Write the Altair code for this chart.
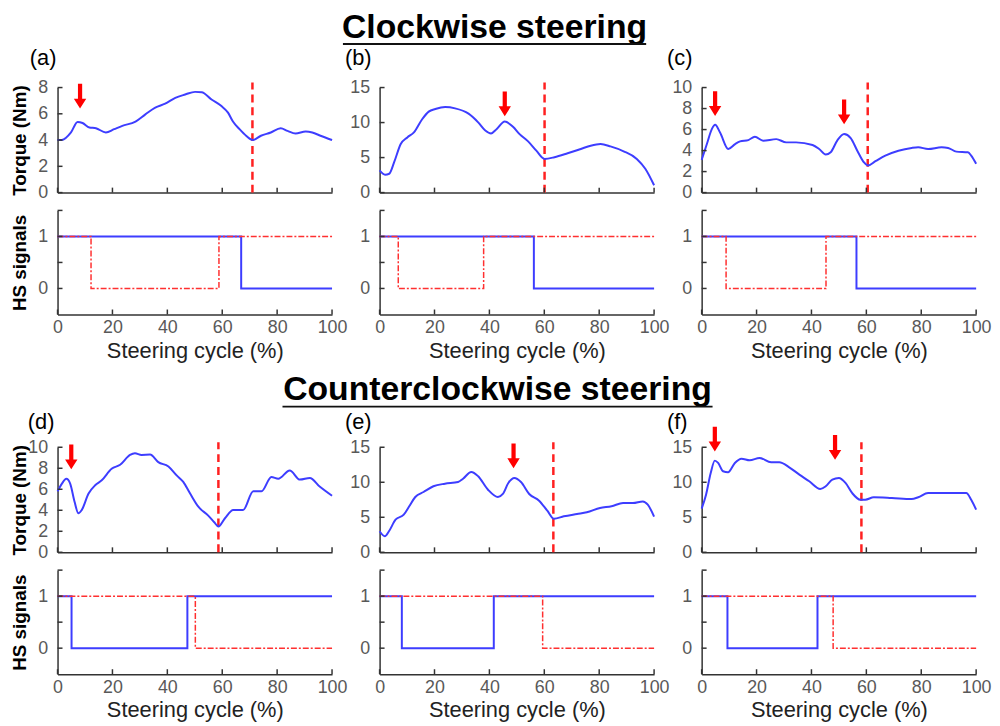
import altair as alt
import pandas as pd

FONT = "Liberation Sans"
BLUE = "#3d3dff"
RED = "#ff2020"
AXIS_C = "#333333"
LABEL_C = "#595959"
W = 277
HT = 106
HH = 105

SECTION_TITLES = ["Clockwise steering", "Counterclockwise steering"]
PANEL_LABELS = ["(a)", "(b)", "(c)", "(d)", "(e)", "(f)"]
X_TICKS = [0, 20, 40, 60, 80, 100]
HS_TICKS = [0, 0.5, 1, 1.5]
HS_LABELS = [0, 1]
Y_TITLE_TORQUE = "Torque (Nm)"
Y_TITLE_HS = "HS signals"
X_TITLE = "Steering cycle (%)"

# ---- torque curves (steering cycle %, torque Nm) ----
A_X = [0, 1.5, 4.9, 7.3, 9.1, 11.6, 14, 17.6, 20.6, 23.6, 28.4, 32, 35.6, 39.2, 42.9, 46.5, 50.1, 52.5,
       56.1, 59.7, 62.1, 63.9, 66.3, 68.7, 71.1, 74.1, 77.7, 81.3, 83.8, 86.7, 90.4, 92.8, 95.8, 100]
A_Y = [4.0, 4.0, 4.58, 5.38, 5.3, 4.96, 4.9, 4.58, 4.83, 5.08, 5.41, 5.96, 6.47, 6.77, 7.22, 7.47, 7.67, 7.65,
       7.09, 6.59, 6.09, 5.41, 4.83, 4.33, 4.0, 4.33, 4.58, 4.9, 4.7, 4.5, 4.65, 4.58, 4.33, 4.0]

B_X = [0, 2, 3.5, 5.3, 7.7, 10.1, 12.5, 15.5, 17.9, 20.3, 23.9, 27.5, 32.4, 36, 38.4, 40.6, 42.6, 45.6,
       48.6, 51, 54.1, 57.1, 60.1, 63.7, 68.5, 73.3, 76.9, 80.5, 84.1, 88.9, 93.7, 96.8, 100]
B_Y = [3.16, 2.55, 2.69, 4.34, 6.93, 7.88, 8.59, 10.47, 11.56, 11.93, 12.21, 12.03, 11.28, 10.0, 8.91, 8.45,
       9.06, 10.14, 9.39, 8.35, 7.31, 5.99, 4.81, 5.05, 5.61, 6.23, 6.7, 6.93, 6.6, 5.9, 4.81, 3.4, 1.04]

C_X = [0, 1.9, 3.7, 4.9, 6.7, 9.7, 12.2, 14, 17, 19.4, 22.4, 27.2, 30.8, 34.4, 40.4, 42.8, 45.2, 47, 49.5,
       51.9, 54.3, 56.7, 59.1, 60.6, 63.3, 66.9, 71.7, 76.5, 78.9, 82.5, 87.4, 89.8, 92.8, 97, 98.2, 100]
C_Y = [3.11, 4.62, 6.04, 6.45, 5.72, 4.15, 4.62, 4.87, 5.0, 5.31, 4.94, 5.09, 4.78, 4.78, 4.53, 4.15, 3.62,
       3.84, 5.0, 5.57, 5.19, 3.99, 2.89, 2.58, 2.99, 3.52, 3.99, 4.25, 4.31, 4.15, 4.31, 4.25, 3.9, 3.84, 3.52, 2.74]

D_X = [0, 1.6, 3.2, 4.6, 6.2, 7.6, 8.8, 11.3, 13.7, 16.1, 19.7, 22.8, 26.4, 28.2, 30.6, 33.7, 36.7, 40.4,
       43.4, 45.8, 48.3, 51.3, 54.9, 57.1, 58.6, 61, 64, 67.6, 71.3, 74.3, 77.9, 80.4, 84.6, 88.3, 91.9, 95.6, 100]
D_Y = [5.8, 6.54, 7.0, 6.54, 4.81, 3.71, 4.02, 5.59, 6.38, 6.85, 7.95, 8.33, 9.27, 9.43, 9.27, 9.3, 8.58, 8.17,
       7.32, 6.7, 5.59, 4.34, 3.49, 2.86, 2.45, 3.24, 4.02, 4.02, 5.81, 5.81, 7.17, 7.0, 7.79, 6.92, 7.08, 6.23, 5.38]

E_X = [0, 1.9, 3.4, 5.8, 8.8, 10.8, 13, 16, 19.6, 23.8, 28.6, 30.4, 33.4, 35.9, 39.5, 43.1, 44.9, 46.9, 49.1,
       51.5, 54.5, 58.1, 61.1, 63.5, 67.1, 71.9, 75.5, 80.3, 84.5, 88.7, 92.3, 95.9, 97.7, 100]
E_Y = [3.0, 2.29, 3.0, 4.66, 5.37, 6.57, 7.9, 8.61, 9.43, 9.8, 10.04, 10.51, 11.47, 10.86, 8.94, 7.9, 8.33,
       9.9, 10.61, 10.04, 8.33, 7.37, 5.94, 4.8, 5.14, 5.47, 5.71, 6.33, 6.57, 7.04, 7.04, 7.27, 6.8, 5.1]

F_X = [0, 1.6, 3.3, 4.8, 6, 7.8, 9.6, 12.1, 14.5, 17.5, 21.1, 25.3, 28.3, 31.9, 35.6, 39.2, 43.2, 45.2, 47.6,
       50, 52.4, 54.8, 57.8, 59.6, 62.7, 69.3, 76.5, 78.9, 82.5, 87.3, 92.1, 96.4, 98.2, 100]
F_Y = [6.24, 8.23, 11.33, 13.09, 12.76, 11.57, 11.43, 12.76, 13.37, 13.14, 13.47, 12.86, 12.86, 12.14, 11.09,
       10.14, 9.04, 9.43, 10.37, 10.61, 9.9, 8.47, 7.51, 7.51, 7.86, 7.76, 7.61, 7.86, 8.47, 8.47, 8.47, 8.47, 7.51, 6.09]

# dashed vertical markers (steering cycle %)
DASH_X = [71, 60.1, 60.5, 58.6, 63.3, 58.2]

# arrows: x position and torque value at arrow tip
ARROW_A_X, ARROW_A_TIP = [8.2], [6.4]
ARROW_B_X, ARROW_B_TIP = [45.6], [10.9]
ARROW_C_X, ARROW_C_TIP = [4.9, 51.9], [7.3, 6.5]
ARROW_D_X, ARROW_D_TIP = [5.0], [7.9]
ARROW_E_X, ARROW_E_TIP = [48.8], [12.0]
ARROW_F_X, ARROW_F_TIP = [4.8, 48.6], [14.4, 13.2]

# ---- HS signals (step changes) ----
HS_A_BLUE_X, HS_A_BLUE_Y = [0, 66.9, 100], [1, 0, 0]
HS_A_RED_X, HS_A_RED_Y = [0, 12.2, 58.8, 100], [1, 0, 1, 1]
HS_B_BLUE_X, HS_B_BLUE_Y = [0, 56.2, 100], [1, 0, 0]
HS_B_RED_X, HS_B_RED_Y = [0, 6.8, 37.9, 100], [1, 0, 1, 1]
HS_C_BLUE_X, HS_C_BLUE_Y = [0, 56.4, 100], [1, 0, 0]
HS_C_RED_X, HS_C_RED_Y = [0, 8.9, 45.3, 100], [1, 0, 1, 1]
HS_D_BLUE_X, HS_D_BLUE_Y = [0, 5.1, 47.3, 100], [1, 0, 1, 1]
HS_D_RED_X, HS_D_RED_Y = [0, 50.2, 100], [1, 0, 0]
HS_E_BLUE_X, HS_E_BLUE_Y = [0, 8.1, 41.6, 100], [1, 0, 1, 1]
HS_E_RED_X, HS_E_RED_Y = [0, 59.4, 100], [1, 0, 0]
HS_F_BLUE_X, HS_F_BLUE_Y = [0, 9.4, 42.2, 100], [1, 0, 1, 1]
HS_F_RED_X, HS_F_RED_Y = [0, 47.9, 100], [1, 0, 0]

ARROW_SHAPE = "M-0.17,-1L0.17,-1L0.17,0.2L0.5,0.2L0,1L-0.5,0.2L-0.17,0.2Z"


def y_axis(values, title, h, fmt):
    return alt.Axis(values=values, ticks=False, grid=False, domainColor=AXIS_C, domainWidth=1.5,
                    labelFontSize=18, labelColor=LABEL_C, labelPadding=10, labelOverlap=False,
                    labelFont=FONT, format=fmt, title=title, titleFontSize=19, titleFontWeight="bold",
                    titleColor="black", titleX=-38, titleY=h / 2, titleAngle=270,
                    titleBaseline="middle", titleFont=FONT)


def torque_panel(label, xs, ys, ymax, ystep, dash, ax, atip, ytitle, label_dx, label_dy, section=None):
    xsc = alt.Scale(domain=[0, 100], nice=False)
    ysc = alt.Scale(domain=[0, ymax], nice=False)
    yvals = list(range(0, ymax + 1, ystep))
    xaxis = alt.Axis(values=X_TICKS, labels=False, ticks=False, grid=False,
                     domainColor=AXIS_C, domainWidth=1.5, title="")
    yaxis = y_axis(yvals, ytitle, HT, "d")
    dashed = alt.Chart(pd.DataFrame({"x": [dash], "y": [0]})).mark_rule(
        color=RED, strokeWidth=2.5, strokeDash=[8, 5]).encode(
        x=alt.X("x:Q", scale=xsc, axis=xaxis), y=alt.Y("y:Q", scale=ysc, axis=yaxis), y2=alt.value(-5))
    line = alt.Chart(pd.DataFrame({"x": xs, "y": ys})).mark_line(
        color=BLUE, strokeWidth=2, interpolate="monotone").encode(
        x=alt.X("x:Q", scale=xsc, axis=xaxis), y=alt.Y("y:Q", scale=ysc, axis=yaxis))
    xt = alt.Chart(pd.DataFrame({"x": X_TICKS})).mark_rule(color=AXIS_C, strokeWidth=1.5).encode(
        x=alt.X("x:Q", scale=xsc, axis=xaxis), y=alt.value(HT), y2=alt.value(HT - 5))
    yt = alt.Chart(pd.DataFrame({"y": yvals})).mark_rule(color=AXIS_C, strokeWidth=1.5).encode(
        y=alt.Y("y:Q", scale=ysc, axis=yaxis), x=alt.value(0), x2=alt.value(5))
    arr = alt.Chart(pd.DataFrame({"x": ax, "y": atip})).mark_point(
        shape=ARROW_SHAPE, size=625, filled=True, color="#ff0000", opacity=1, yOffset=-12.5).encode(
        x=alt.X("x:Q", scale=xsc, axis=xaxis), y=alt.Y("y:Q", scale=ysc, axis=yaxis))
    lab = alt.Chart(pd.DataFrame({"t": [label]})).mark_text(
        align="left", baseline="middle", fontSize=22, font=FONT, color="black").encode(
        text="t:N", x=alt.value(label_dx), y=alt.value(label_dy))
    layers = [dashed, line, xt, yt, arr, lab]
    if section is not None:
        text, cx, by, ux1, ux2, uy = section
        sdf = pd.DataFrame({"t": [text]})
        stext = alt.Chart(sdf).mark_text(
            align="center", baseline="alphabetic", fontSize=34, fontWeight="bold",
            font=FONT, color="black").encode(text="t:N", x=alt.value(cx), y=alt.value(by))
        sline = alt.Chart(sdf).mark_rule(color="#111111", strokeWidth=2).encode(
            x=alt.value(ux1), x2=alt.value(ux2), y=alt.value(uy))
        layers += [stext, sline]
    return alt.layer(*layers).properties(width=W, height=HT)


def hs_panel(bx, by, rx, ry, ytitle):
    xsc = alt.Scale(domain=[0, 100], nice=False)
    ysc = alt.Scale(domain=[-0.5, 1.5], nice=False)
    xaxis = alt.Axis(values=X_TICKS, ticks=False, grid=False, domainColor=AXIS_C, domainWidth=1.5,
                     labelFontSize=18, labelColor=LABEL_C, labelPadding=4, labelFlush=False,
                     labelOverlap=False, labelFont=FONT, format="d", title=X_TITLE, titleFontSize=22,
                     titleFontWeight="normal", titleColor="#222222", titlePadding=4, titleFont=FONT)
    yaxis = y_axis(HS_LABELS, ytitle, HH, "d")
    blue = alt.Chart(pd.DataFrame({"x": bx, "y": by})).mark_line(
        color=BLUE, strokeWidth=2, interpolate="step-after").encode(
        x=alt.X("x:Q", scale=xsc, axis=xaxis), y=alt.Y("y:Q", scale=ysc, axis=yaxis))
    red = alt.Chart(pd.DataFrame({"x": rx, "y": ry})).mark_line(
        color="#ff3030", strokeWidth=1.5, strokeDash=[6, 2, 2, 2], interpolate="step-after").encode(
        x=alt.X("x:Q", scale=xsc, axis=xaxis), y=alt.Y("y:Q", scale=ysc, axis=yaxis))
    xt = alt.Chart(pd.DataFrame({"x": X_TICKS})).mark_rule(color=AXIS_C, strokeWidth=1.5).encode(
        x=alt.X("x:Q", scale=xsc, axis=xaxis), y=alt.value(HH), y2=alt.value(HH - 5))
    yt = alt.Chart(pd.DataFrame({"y": HS_TICKS})).mark_rule(color=AXIS_C, strokeWidth=1.5).encode(
        y=alt.Y("y:Q", scale=ysc, axis=yaxis), x=alt.value(0), x2=alt.value(5))
    return alt.layer(blue, red, xt, yt).properties(width=W, height=HH)


def blank():
    return alt.Chart(pd.DataFrame({"t": [""]})).mark_text().encode(
        text="t:N").properties(width=W, height=98)


ta = torque_panel(PANEL_LABELS[0], A_X, A_Y, 8, 2, DASH_X[0], ARROW_A_X, ARROW_A_TIP, Y_TITLE_TORQUE, -28, -30)
tb = torque_panel(PANEL_LABELS[1], B_X, B_Y, 15, 5, DASH_X[1], ARROW_B_X, ARROW_B_TIP, "", -35, -30,
                  section=(SECTION_TITLES[0], 116, -50, -37, 269, -44))
tc = torque_panel(PANEL_LABELS[2], C_X, C_Y, 10, 2, DASH_X[2], ARROW_C_X, ARROW_C_TIP, "", -35, -30)
td = torque_panel(PANEL_LABELS[3], D_X, D_Y, 10, 2, DASH_X[3], ARROW_D_X, ARROW_D_TIP, Y_TITLE_TORQUE, -30, -25)
te = torque_panel(PANEL_LABELS[4], E_X, E_Y, 15, 5, DASH_X[4], ARROW_E_X, ARROW_E_TIP, "", -35, -25,
                  section=(SECTION_TITLES[1], 119, -48, -98, 336, -41))
tf = torque_panel(PANEL_LABELS[5], F_X, F_Y, 15, 5, DASH_X[5], ARROW_F_X, ARROW_F_TIP, "", -35, -25)

ha = hs_panel(HS_A_BLUE_X, HS_A_BLUE_Y, HS_A_RED_X, HS_A_RED_Y, Y_TITLE_HS)
hb = hs_panel(HS_B_BLUE_X, HS_B_BLUE_Y, HS_B_RED_X, HS_B_RED_Y, "")
hc = hs_panel(HS_C_BLUE_X, HS_C_BLUE_Y, HS_C_RED_X, HS_C_RED_Y, "")
hd = hs_panel(HS_D_BLUE_X, HS_D_BLUE_Y, HS_D_RED_X, HS_D_RED_Y, Y_TITLE_HS)
he = hs_panel(HS_E_BLUE_X, HS_E_BLUE_Y, HS_E_RED_X, HS_E_RED_Y, "")
hf = hs_panel(HS_F_BLUE_X, HS_F_BLUE_Y, HS_F_RED_X, HS_F_RED_Y, "")

chart = alt.concat(
    ta, tb, tc, ha, hb, hc, blank(), blank(), blank(), td, te, tf, hd, he, hf,
    columns=3, spacing=alt.RowColnumber(row=18, column=48), bounds="flush"
).properties(
    padding={"left": 3, "top": 0, "right": 0, "bottom": 0}
).configure(font=FONT).configure_view(strokeWidth=0).configure_axis(labelOverlap=False)

chart.save("out.html", embed_options={"renderer": "svg", "actions": False})
